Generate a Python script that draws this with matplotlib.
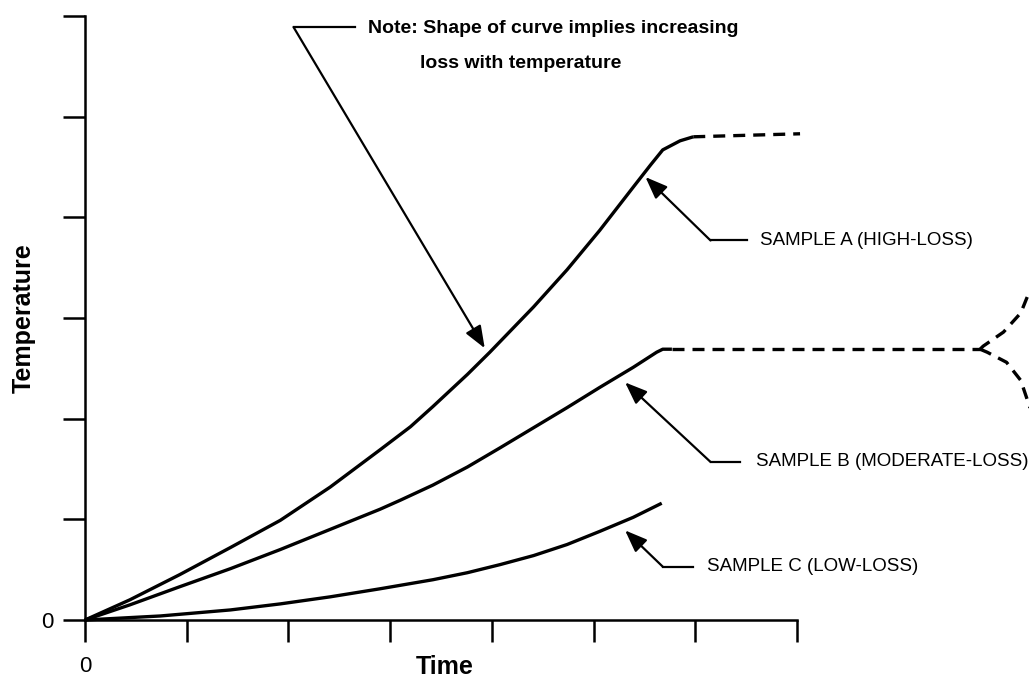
import matplotlib
matplotlib.use("Agg")
import matplotlib.pyplot as plt

plt.rcParams['font.family'] = ['Liberation Sans', 'DejaVu Sans']

# ---- data ----
a_x = [0, 0.44, 0.93, 1.43, 1.92, 2.41, 2.90, 3.20, 3.42, 3.76, 3.98, 4.41, 4.74,
       5.06, 5.39, 5.56, 5.68, 5.85, 5.98]
a_y = [0, 0.20, 0.45, 0.72, 0.99, 1.32, 1.69, 1.92, 2.12, 2.44, 2.66, 3.11, 3.48,
       3.87, 4.30, 4.52, 4.67, 4.76, 4.80]
a_dash_x = [5.98, 7.03]
a_dash_y = [4.80, 4.83]

b_x = [0, 0.44, 0.93, 1.43, 1.92, 2.41, 2.90, 3.10, 3.42, 3.76, 4.08, 4.41, 4.74,
       5.06, 5.39, 5.62, 5.68, 5.77]
b_y = [0, 0.15, 0.33, 0.51, 0.70, 0.90, 1.10, 1.19, 1.34, 1.52, 1.71, 1.91, 2.11,
       2.31, 2.51, 2.66, 2.69, 2.69]
b_dash_x = [5.77, 8.8]
b_dash_y = [2.69, 2.69]
b_up_x = [8.8, 8.83, 9.03, 9.2, 9.3]
b_up_y = [2.69, 2.72, 2.86, 3.05, 3.30]
b_dn_x = [8.8, 8.87, 9.06, 9.2, 9.3]
b_dn_y = [2.69, 2.66, 2.56, 2.38, 2.08]

c_x = [0, 0.74, 1.43, 1.92, 2.41, 2.90, 3.42, 3.76, 4.08, 4.41, 4.74, 5.06, 5.39, 5.67]
c_y = [0, 0.04, 0.10, 0.16, 0.23, 0.31, 0.40, 0.47, 0.55, 0.64, 0.75, 0.88, 1.02, 1.16]

x_ticks = [0, 1, 2, 3, 4, 5, 6, 7]
y_ticks = [0, 1, 2, 3, 4, 5, 6]
x_tick_labels = ['0', '', '', '', '', '', '', '']
y_tick_labels = ['0', '', '', '', '', '', '']

note_lines = ["Note: Shape of curve implies increasing", "loss with temperature"]
labels = ["SAMPLE A (HIGH-LOSS)", "SAMPLE B (MODERATE-LOSS)", "SAMPLE C (LOW-LOSS)"]

# ---- figure ----
W, H = 1029, 679
fig = plt.figure(figsize=(W / 100, H / 100), dpi=100)
ax = fig.add_axes([85 / W, 1 - 620 / H, (797 - 85) / W, (620 - 16) / H])
ax.set_xlim(0, 7)
ax.set_ylim(0, 6)

for s in ['top', 'right']:
    ax.spines[s].set_visible(False)
for s in ['left', 'bottom']:
    ax.spines[s].set_linewidth(1.8)

ax.set_xticks(x_ticks)
ax.set_xticklabels(x_tick_labels)
ax.set_yticks(y_ticks)
ax.set_yticklabels(y_tick_labels)
ax.tick_params(direction='out', length=16, width=1.8, labelsize=16)
ax.tick_params(axis='x', pad=10)
ax.tick_params(axis='y', pad=7)

lw = 2.4
kw = dict(color='black', lw=lw, clip_on=False, solid_capstyle='butt',
          solid_joinstyle='round')
dash = (0, (3.6, 2.4))
ax.plot(a_x, a_y, **kw)
ax.plot(a_dash_x, a_dash_y, linestyle=dash, **kw)
ax.plot(b_x, b_y, **kw)
ax.plot(b_dash_x, b_dash_y, linestyle=dash, **kw)
ax.plot(b_up_x, b_up_y, linestyle=dash, **kw)
ax.plot(b_dn_x, b_dn_y, linestyle=dash, **kw)
ax.plot(c_x, c_y, **kw)

# axis labels
fig.text(24 / W, 1 - 318 / H, "Temperature", rotation=90, ha='center', va='center',
         fontsize=18, fontweight='bold')
fig.text(445 / W, 1 - 667 / H, "Time", ha='center', va='center',
         fontsize=18, fontweight='bold')

# annotations
akw = dict(arrowstyle='-|>,head_length=0.9,head_width=0.35', color='black', lw=1.6,
           mutation_scale=15, shrinkA=0, shrinkB=0)

def leader(path_x, path_y, tip):
    ax.plot(path_x, path_y, color='black', lw=1.6, clip_on=False)
    ax.annotate('', xy=tip, xytext=(path_x[-1], path_y[-1]),
                arrowprops=akw, annotation_clip=False)

# note
leader([2.65, 2.05], [5.89, 5.89], (3.93, 2.70))
ax.text(2.78, 5.88, note_lines[0], fontsize=14, fontweight='bold', va='center', ha='left')
ax.text(3.29, 5.53, note_lines[1], fontsize=14, fontweight='bold', va='center', ha='left')

# samples
leader([6.51, 6.15], [3.77, 3.77], (5.51, 4.40))
ax.text(6.64, 3.77, labels[0], fontsize=13.5, va='center', ha='left')
leader([6.44, 6.15], [1.57, 1.57], (5.31, 2.36))
ax.text(6.60, 1.57, labels[1], fontsize=13.5, va='center', ha='left')
leader([5.98, 5.68], [0.53, 0.53], (5.31, 0.89))
ax.text(6.12, 0.53, labels[2], fontsize=13.5, va='center', ha='left')

fig.savefig("out.png", dpi=100)
